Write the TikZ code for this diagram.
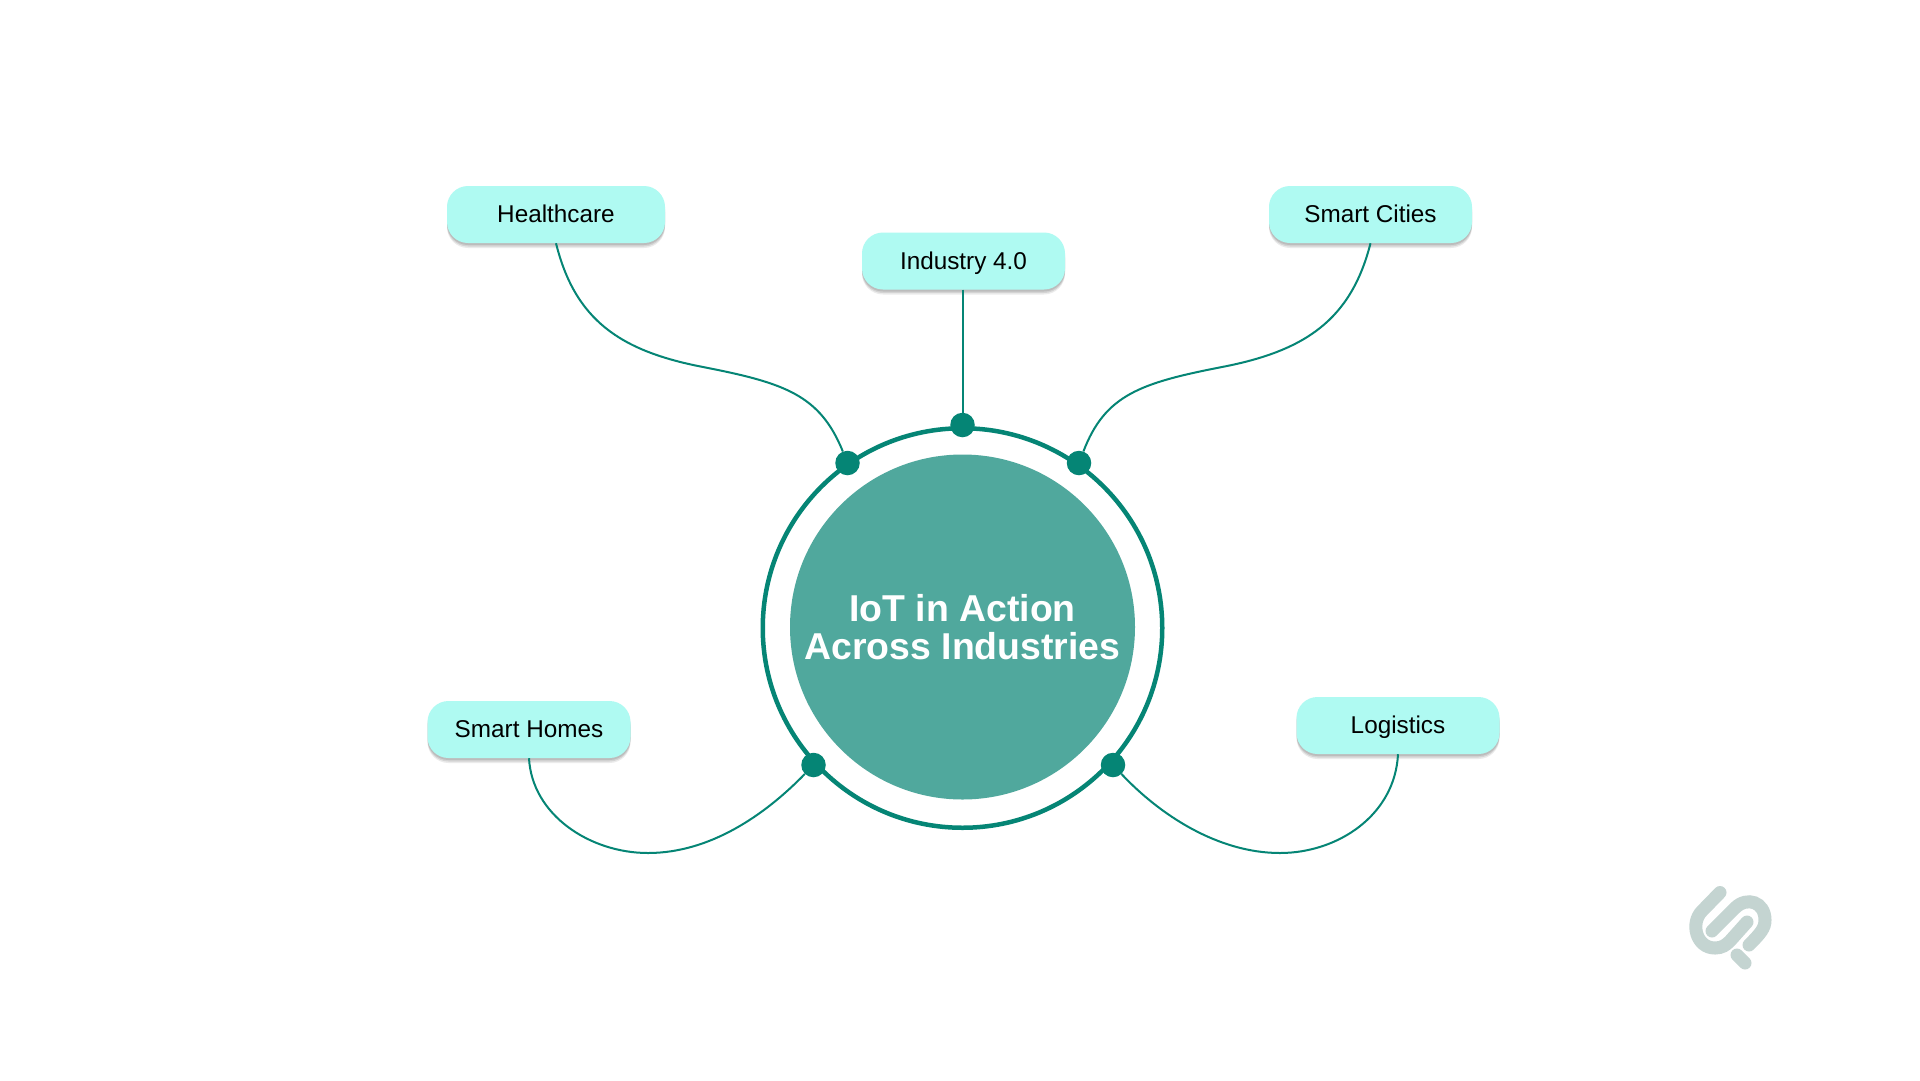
\documentclass[tikz,border=0pt]{standalone}
\usepackage{fontspec}
\setmainfont{Liberation Sans}
\definecolor{teal1}{HTML}{058575}
\definecolor{teal2}{HTML}{50A89D}
\definecolor{aqua}{HTML}{AFFAF2}
\definecolor{logo}{HTML}{C4D4D1}
\tikzset{
  boxnode/.style={fill=aqua,rounded corners=21pt,minimum width=#1,minimum height=57pt,inner sep=0pt,text height=20pt,text depth=3.6pt,font=\fontsize{24.3}{28}\selectfont,text=black,
    preaction={draw=none,fill=black,opacity=.10,transform canvas={yshift=-2pt}},
    preaction={draw=none,fill=black,opacity=.10,transform canvas={yshift=-3.5pt}},
    preaction={draw=none,fill=black,opacity=.08,transform canvas={yshift=-5pt}}},
  dotnode/.style={circle,fill=teal1,minimum size=24.5pt,inner sep=0pt},
  link/.style={draw=teal1,line width=2pt},
  logostroke/.style={draw=logo,line width=13pt,line cap=round}
}
\begin{document}
\begin{tikzpicture}[x=1pt,y=-1pt]
\useasboundingbox[fill=white] (0,0) rectangle (1920,1080);
% hub
\node[circle,draw=teal1,line width=4.5pt,minimum size=399.5pt,inner sep=0pt] (ring) at (962.5,628) {};
\node[circle,fill=teal2,minimum size=345pt,inner sep=0pt,align=center,text=white,font=\bfseries\fontsize{37.4}{38.5}\selectfont] (hub) at (962.5,627) {IoT in Action\\Across Industries};
% dots
\node[dotnode] (dh) at (847.5,463) {};
\node[dotnode] (di) at (962.5,425) {};
\node[dotnode] (dc) at (1079,463) {};
\node[dotnode] (ds) at (813.5,765) {};
\node[dotnode] (dl) at (1113,765) {};
% boxes
\node[boxnode=218pt] (h) at (556,214.5) {Healthcare};
\node[boxnode=203pt] (i) at (963.5,261) {Industry 4.0};
\node[boxnode=203pt] (c) at (1370.5,214.5) {Smart Cities};
\node[boxnode=203pt] (s) at (529,729.5) {Smart Homes};
\node[boxnode=203pt] (l) at (1398,725.5) {Logistics};
% connectors
\coordinate (mh) at (703,367);
\coordinate (mc) at (1222,367);
\coordinate (ms) at (648,853);
\coordinate (ml) at (1280,853);
\draw[link] (h.south) .. controls (575,320) and (620,351) .. (mh) .. controls (785,383) and (820,395) .. (dh);
\draw[link] (i.south-|di) -- (di);
\draw[link] (c.south) .. controls (1351,320) and (1305,351) .. (mc) .. controls (1140,383) and (1105,395) .. (dc);
\draw[link] (s.south) .. controls (532,815) and (590,853) .. (ms) .. controls (710,853) and (765,815) .. (ds);
\draw[link] (l.south) .. controls (1395,815) and (1338,853) .. (ml) .. controls (1218,853) and (1160,815) .. (dl);
% logo
\draw[logostroke] (1720,892.5) -- (1702,911) .. controls (1690,923) and (1696,948) .. (1715,948) .. controls (1722,948) and (1726,945) .. (1730,941) -- (1747,922);
\draw[logostroke] (1712,931) -- (1735,908) .. controls (1747,896) and (1765,902) .. (1765,920) .. controls (1765,928) and (1761,933) .. (1749,945);
\draw[logostroke] (1737,955) -- (1745,963);
\end{tikzpicture}
\end{document}
